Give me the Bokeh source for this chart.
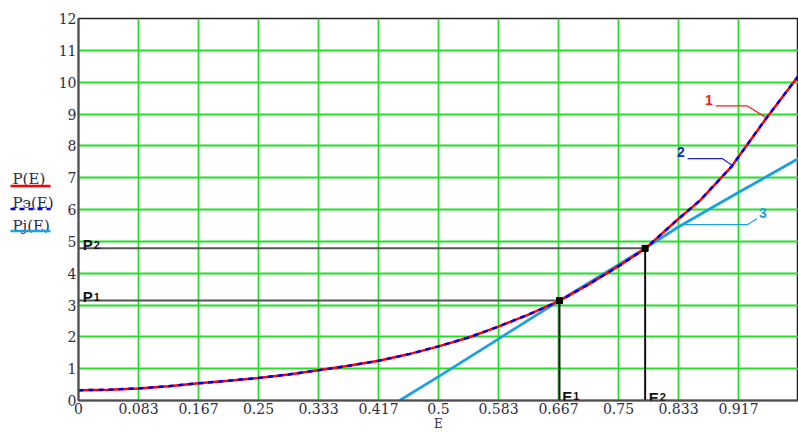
import numpy as np
from bokeh.plotting import figure
from bokeh.models import Range1d, FixedTicker, Label
from bokeh.layouts import row
from bokeh.embed import file_html
from bokeh.resources import INLINE
from bokeh.core.properties import value

# ---------------- data ----------------
x_ticks = [0, 1/12, 2/12, 3/12, 4/12, 5/12, 6/12, 7/12, 8/12, 9/12, 10/12, 11/12]
x_tick_labels = ["0", "0.083", "0.167", "0.25", "0.333", "0.417", "0.5",
                 "0.583", "0.667", "0.75", "0.833", "0.917"]
y_ticks = [0, 1, 2, 3, 4, 5, 6, 7, 8, 9, 10, 11, 12]
x_title = "E"

# curve 1: P(E)
E_p = [0.0, 0.042, 0.083, 0.125, 0.167, 0.208, 0.25, 0.292, 0.333, 0.375, 0.417,
       0.458, 0.5, 0.542, 0.583, 0.625, 0.667, 0.708, 0.75, 0.787, 0.833, 0.863,
       0.907, 0.954, 1.0]
P_p = [0.32, 0.34, 0.375, 0.45, 0.54, 0.62, 0.71, 0.82, 0.95, 1.09, 1.25,
       1.45, 1.70, 1.98, 2.32, 2.70, 3.12, 3.64, 4.22, 4.77, 5.70, 6.28,
       7.35, 8.83, 10.2]
# curve 2: Pэ(E)
E_pe = [0.0, 0.042, 0.083, 0.125, 0.167, 0.208, 0.25, 0.292, 0.333, 0.375, 0.417,
        0.458, 0.5, 0.542, 0.583, 0.625, 0.667, 0.708, 0.75, 0.787, 0.833, 0.863,
        0.907, 0.954, 1.0]
P_pe = [0.32, 0.34, 0.38, 0.45, 0.54, 0.62, 0.71, 0.82, 0.95, 1.09, 1.25,
        1.45, 1.70, 1.98, 2.32, 2.70, 3.12, 3.64, 4.22, 4.77, 5.70, 6.28,
        7.35, 8.83, 10.2]
# curve 3: Pj(E)
E_pj = [0.446, 0.5, 0.583, 0.667, 0.75, 0.787, 0.833, 0.917, 1.0]
P_pj = [0.0, 0.75, 1.93, 3.12, 4.27, 4.78, 5.45, 6.54, 7.6]

# intersection points
E1, P1 = 0.668, 3.14
E2, P2 = 0.787, 4.78

legend_names = ["P(E)", "P\u044d(E)", "Pj(E)"]
curve_tags = ["1", "2", "3"]

RED = "#ff0000"
BLUE = "#0000ee"
CYAN = "#1ba1e2"
GRID = "#22e022"
TXT = "#2c2c44"
UNIT = 383 / 12.0  # pixels per P unit in the frame

# ---------------- legend column (left) ----------------
leg = figure(width=55, height=433, x_range=Range1d(0, 55), y_range=Range1d(433, 0),
             toolbar_location=None, output_backend="svg",
             x_axis_location=None, y_axis_location=None,
             min_border=0, outline_line_color=None)
leg.grid.visible = False
leg.text(x=[12, 12, 12], y=[182, 209, 235], text=legend_names,
         text_font=value("DejaVu Serif"), text_font_size="15px",
         text_color=TXT, text_baseline="alphabetic")
leg.line([10, 50], [190, 190], line_color=RED, line_width=2.5)
leg.line([10, 50], [216, 216], line_color=BLUE, line_width=2.5, line_dash="5 4")
leg.line([10, 50], [241, 241], line_color=CYAN, line_width=2.5)

# ---------------- main plot ----------------
p = figure(width=743, height=433, x_range=Range1d(0, 1), y_range=Range1d(0, 12),
           toolbar_location=None, output_backend="svg",
           min_border_left=22, min_border_right=0, min_border_top=18, min_border_bottom=32)
p.background_fill_color = "white"
p.border_fill_color = "white"
p.outline_line_color = "#222222"
p.outline_line_width = 1.5

p.xaxis.ticker = FixedTicker(ticks=x_ticks)
p.xaxis.major_label_overrides = {t: s for t, s in zip(x_ticks, x_tick_labels)}
p.yaxis.ticker = FixedTicker(ticks=y_ticks)
for ax in (p.xaxis, p.yaxis):
    ax.major_tick_out = 0
    ax.major_tick_in = 0
    ax.minor_tick_out = 0
    ax.minor_tick_in = 0
    ax.axis_line_color = "#4d4d4d"
    ax.axis_line_width = 2
    ax.major_label_text_font = "DejaVu Serif"
    ax.major_label_text_font_size = "14px"
    ax.major_label_text_color = TXT
p.xaxis.major_label_standoff = 2
p.yaxis.major_label_standoff = 2
p.xaxis.axis_label = x_title
p.xaxis.axis_label_standoff = 0
p.xaxis.axis_label_text_font = "DejaVu Serif"
p.xaxis.axis_label_text_font_size = "12px"
p.xaxis.axis_label_text_font_style = "normal"
p.xaxis.axis_label_text_color = TXT

p.xgrid.grid_line_color = GRID
p.ygrid.grid_line_color = GRID
p.xgrid.grid_line_width = 1.8
p.ygrid.grid_line_width = 1.8

# curves
p.line(E_pj, P_pj, line_color=CYAN, line_width=2.8)
p.line(E_p, P_p, line_color=RED, line_width=2.5)
p.line(E_pe, P_pe, line_color=BLUE, line_width=2.5, line_dash="5 5")

# guide lines
p.line([0, E1], [P1, P1], line_color="#555555", line_width=2)
p.line([0, E2], [P2, P2], line_color="#555555", line_width=2)
p.line([E1, E1], [0, P1], line_color="#111111", line_width=2)
p.line([E2, E2], [0, P2], line_color="#111111", line_width=2)
p.scatter([E1, E2], [P1, P2], marker="square", size=6, color="#000000")


def lab(x, y, t, color="#111111", size="14px", align="left", baseline="alphabetic",
        font="Liberation Sans", style="bold", xo=0, yo=0):
    p.add_layout(Label(x=x, y=y, text=t, text_color=color, text_font_size=size,
                       text_align=align, text_baseline=baseline,
                       text_font=font, text_font_style=style,
                       x_offset=xo, y_offset=yo))


def sub_label(x, y, main, sub):
    lab(x, y, main, size="15px")
    lab(x, y, sub, size="11px", xo=11)


sub_label(0.006, P1 + 0.12, "P", "1")
sub_label(0.006, P2 + 0.11, "P", "2")
sub_label(E1 + 0.004, 0.14, "E", "1")
sub_label(E2 + 0.005, 0.10, "E", "2")


# pointers to the curves
def pointer(tag, e_end, curve_E, curve_P, e_elbow, e_start, dy_px, color):
    y_end = float(np.interp(e_end, curve_E, curve_P))
    y_h = y_end + dy_px / UNIT
    p.line([e_start, e_elbow, e_end], [y_h, y_h, y_end], line_color=color, line_width=1.2)
    lab(e_start - 0.004, y_h + 0.2, tag, color=color, align="right", baseline="middle")


pointer(curve_tags[0], 0.9556, E_p, P_p, 0.929, 0.885, 12, "#ff1a1a")
pointer(curve_tags[1], 0.908, E_pe, P_pe, 0.894, 0.846, 7, "#2323c8")
# curve 3: horizontal from the curve to the right, then up to the tag
y3 = float(np.interp(0.8387, E_pj, P_pj))
p.line([0.8387, 0.9287, 0.9425], [y3, y3, y3 + 6 / UNIT],
       line_color=CYAN, line_width=1.2)
lab(0.945, y3 + 0.37, curve_tags[2], color=CYAN, align="left", baseline="middle")

layout = row(leg, p)
open("out.html", "w").write(file_html(layout, INLINE))
